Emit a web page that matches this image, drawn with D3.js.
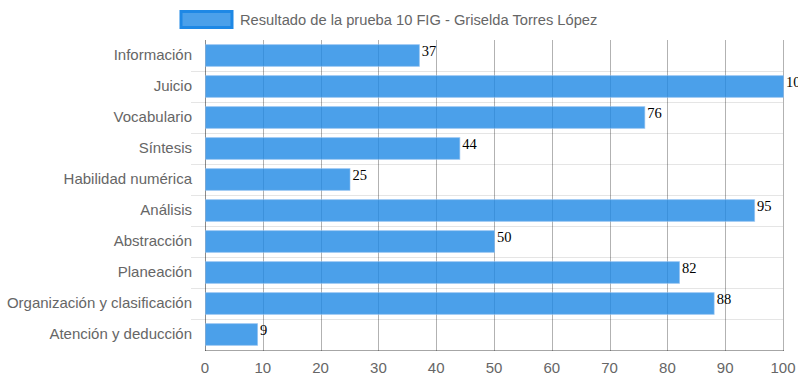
<!DOCTYPE html>
<html>
<head>
<meta charset="utf-8">
<script src="https://cdn.jsdelivr.net/npm/d3@7"></script>
<style>
  body { margin: 0; background: #fff; }
  svg { display: block; }
</style>
</head>
<body>
<svg id="chart" width="798" height="385"></svg>
<script>
const categories = ['Información', 'Juicio', 'Vocabulario', 'Síntesis', 'Habilidad numérica',
    'Análisis', 'Abstracción', 'Planeación', 'Organización y clasificación', 'Atención y deducción'];
const values = [37, 100, 76, 44, 25, 95, 50, 82, 88, 9];
const xTicks = [0, 10, 20, 30, 40, 50, 60, 70, 80, 90, 100];
const seriesName = 'Resultado de la prueba 10 FIG - Griselda Torres López';

const svg = d3.select('#chart');
const plotLeft = 205, plotRight = 783, plotTop = 40, plotBottom = 350;

const x = d3.scaleLinear().domain([0, 100]).range([plotLeft, plotRight]);
const y = d3.scaleBand().domain(categories).range([plotTop, plotBottom]);

const font = '"Liberation Sans", Arial, sans-serif';

// horizontal grid (between categories)
svg.append('g')
    .selectAll('line')
    .data(categories.slice(1))
    .enter()
    .append('line')
    .attr('x1', plotLeft - 14).attr('x2', plotRight)
    .attr('y1', d => y(d) + 0.5).attr('y2', d => y(d) + 0.5)
    .attr('stroke', 'rgba(0,0,0,0.1)');

// vertical grid
svg.append('g')
    .selectAll('line')
    .data(xTicks)
    .enter()
    .append('line')
    .attr('x1', d => Math.round(x(d)) + 0.5).attr('x2', d => Math.round(x(d)) + 0.5)
    .attr('y1', plotTop).attr('y2', plotBottom + 1)
    .attr('stroke', d => d === 0 ? 'rgba(0,0,0,0.45)' : 'rgba(0,0,0,0.3)');

// x axis line
svg.append('line')
    .attr('x1', plotLeft).attr('x2', plotRight + 1)
    .attr('y1', plotBottom + 0.5).attr('y2', plotBottom + 0.5)
    .attr('stroke', 'rgba(0,0,0,0.35)');

// bars
const barH = y.bandwidth() * 0.7;
svg.append('g')
    .selectAll('rect')
    .data(values)
    .enter()
    .append('rect')
    .attr('x', plotLeft + 0.5)
    .attr('y', (d, i) => y(categories[i]) + (y.bandwidth() - barH) / 2)
    .attr('width', d => x(d) - plotLeft)
    .attr('height', barH)
    .attr('fill', 'rgba(30,136,229,0.8)')
    .attr('stroke', 'rgba(140,190,240,0.6)')
    .attr('stroke-width', 1);

// value labels
svg.append('g')
    .selectAll('text')
    .data(values)
    .enter()
    .append('text')
    .attr('x', d => x(d) + 3)
    .attr('y', (d, i) => y(categories[i]) + y.bandwidth() / 2)
    .attr('font-family', '"Liberation Serif", "Times New Roman", serif')
    .attr('font-size', 14.5)
    .attr('fill', '#000')
    .text(d => d);

// y labels
svg.append('g')
    .selectAll('text')
    .data(categories)
    .enter()
    .append('text')
    .attr('x', plotLeft - 13)
    .attr('y', d => y(d) + y.bandwidth() / 2)
    .attr('dy', '0.28em')
    .attr('text-anchor', 'end')
    .attr('font-family', font)
    .attr('font-size', 15)
    .attr('fill', '#666')
    .text(d => d);

// x tick labels
svg.append('g')
    .selectAll('text')
    .data(xTicks)
    .enter()
    .append('text')
    .attr('x', d => x(d))
    .attr('y', 368)
    .attr('dy', '0.35em')
    .attr('text-anchor', 'middle')
    .attr('font-family', font)
    .attr('font-size', 15)
    .attr('fill', '#666')
    .text(d => d);

// legend
svg.append('rect')
    .attr('x', 181).attr('y', 11.5)
    .attr('width', 51).attr('height', 16)
    .attr('fill', 'rgba(30,136,229,0.8)')
    .attr('stroke', '#1e88e5')
    .attr('stroke-width', 3);

svg.append('text')
    .attr('x', 240).attr('y', 19.5)
    .attr('dy', '0.35em')
    .attr('font-family', font)
    .attr('font-size', 14.7)
    .attr('fill', '#666')
    .text(seriesName);
</script>
</body>
</html>
